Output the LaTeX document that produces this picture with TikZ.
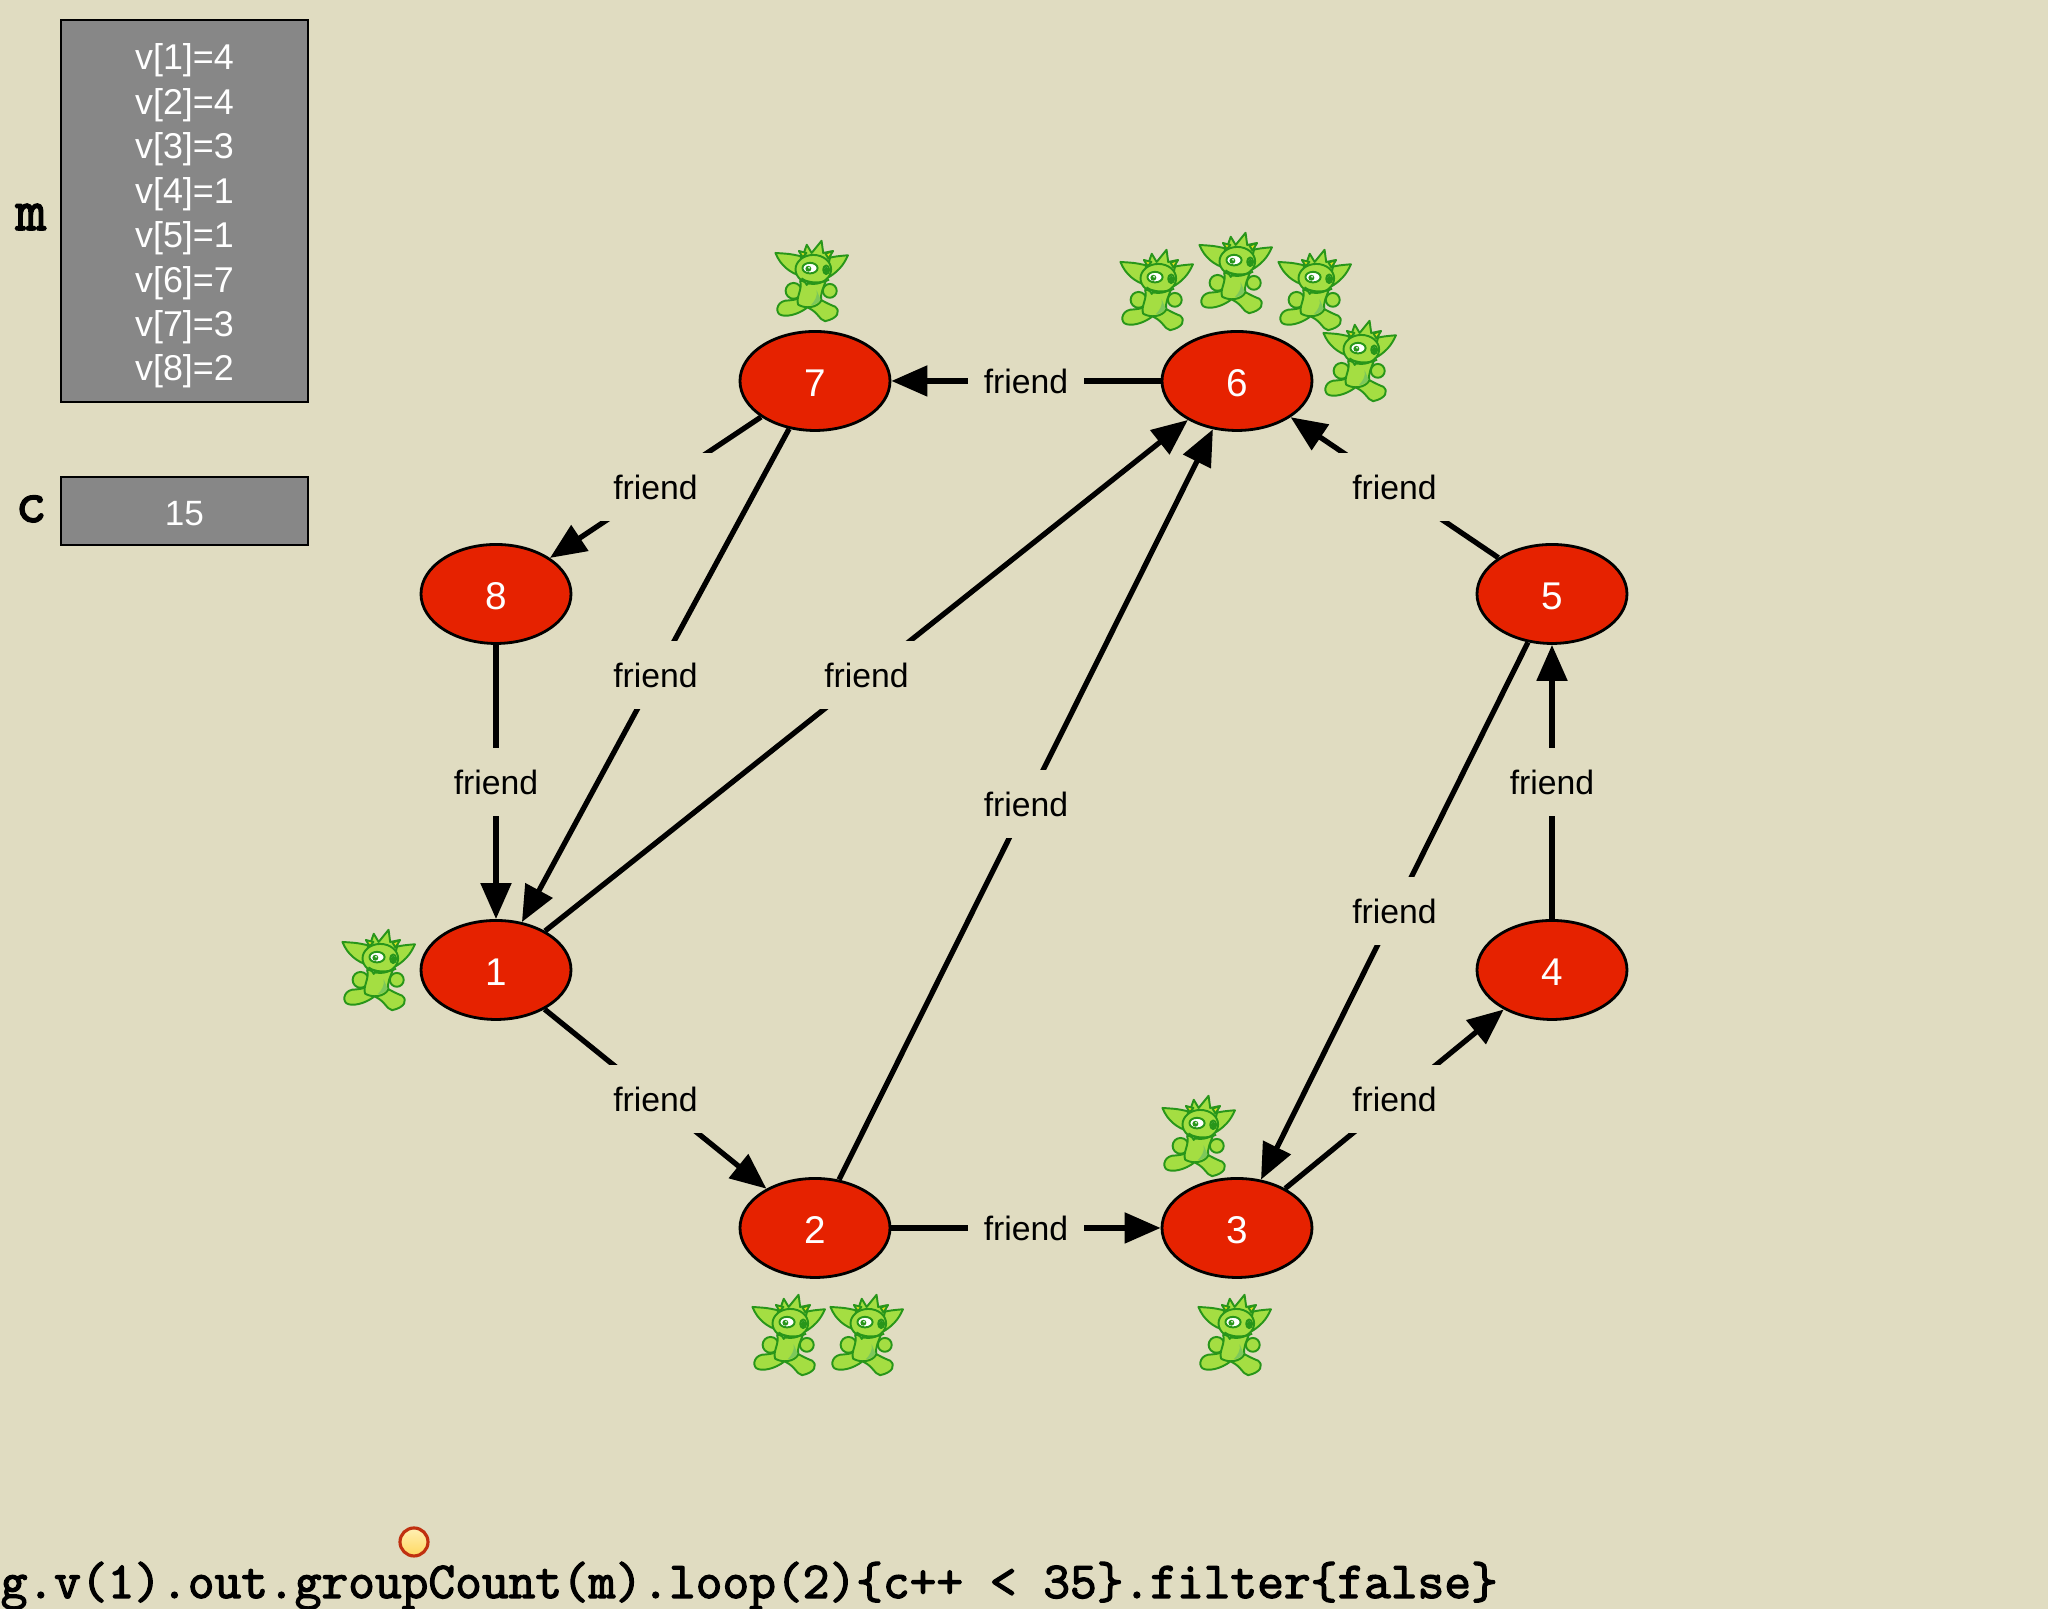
\documentclass[tikz,border=0pt]{standalone}
\usepackage{fontspec}
\setmainfont{Liberation Sans}
\newfontfamily\codefont[FakeBold=2.5]{Latin Modern Mono}
\usepackage{tikz}
\usetikzlibrary{arrows.meta, shapes.geometric}

\definecolor{paper}{RGB}{224,220,193}
\definecolor{vertexred}{RGB}{230,34,0}
\definecolor{boxgray}{RGB}{135,135,135}
\definecolor{gobline}{RGB}{40,150,26}
\definecolor{gobfill}{RGB}{164,222,66}
\definecolor{gobdark}{RGB}{125,200,90}
\definecolor{gobhair}{RGB}{232,226,30}

\tikzset{
    goblin/.pic={
        \begin{scope}[x=.0033cm, y=-.0033cm, shift={(-200,-240)}, draw=gobline, fill=gobfill, line width=.55pt, line join=round]
            % ears
            \filldraw (166,165) .. controls (135,158) .. (89,155) .. controls (105,195) and (135,215) .. (165,225) -- cycle;
            \filldraw (250,170) .. controls (275,165) .. (309,162) .. controls (295,195) and (275,215) .. (245,232) -- cycle;
            % hair
            \filldraw (158,190) -- (172,165) -- (184,130) -- (199,155) -- (229,118) -- (234,155) -- (259,150) -- (250,190) -- cycle;
            \filldraw[fill=gobhair] (160,149) -- (183,155) -- (172,168) -- cycle;
            \filldraw[fill=gobhair] (264,149) -- (241,157) -- (250,172) -- cycle;
            % arms
            \filldraw (144,270) circle [radius=24];
            \filldraw (254,270) circle [radius=21];
            % legs
            \filldraw (175,280) .. controls (160,300) and (135,298) .. (118,300) .. controls (90,306) and (88,340) .. (108,344) .. controls (130,350) and (170,338) .. (198,310) -- cycle;
            \filldraw (205,282) .. controls (225,298) and (250,310) .. (270,318) .. controls (288,332) and (278,354) .. (240,362) .. controls (220,357) and (222,338) .. (190,322) -- cycle;
            % body
            \filldraw (164,240) .. controls (172,265) and (150,290) .. (158,312) .. controls (180,325) and (215,322) .. (228,300) .. controls (225,275) and (235,260) .. (242,240) -- cycle;
            \fill[gobdark] (214,268) .. controls (218,285) and (208,302) .. (196,314) .. controls (212,312) and (222,304) .. (226,296) -- cycle;
            % head
            \filldraw (204,205) ellipse [x radius=54, y radius=44];
            % eyes
            \filldraw[fill=white] (194,201) ellipse [x radius=23, y radius=16];
            \fill[gobline] (189,203) circle [radius=9];
            \fill[white] (191,200) circle [radius=3];
            \filldraw[fill=white] (243,206) ellipse [x radius=9, y radius=13];
            \fill[gobline] (243,207) ellipse [x radius=7, y radius=10];
            % mouth
            \draw (168,232) .. controls (188,248) and (228,248) .. (252,236);
            \filldraw[fill=white] (177,240) -- (192,243) -- (184,252) -- cycle;
        \end{scope}
    }
}

\begin{document}
\begin{tikzpicture}[
        vertex/.style={ellipse, draw=black, line width=.8pt, fill=vertexred, text=white, minimum width=1.5cm, minimum height=.99cm, inner sep=0pt, text height=9.1pt, text depth=0pt, font=\fontsize{11}{13}\selectfont},
        friendedge/.style={-{Triangle[length=.36cm, width=.3cm]}, line width=1.5pt},
        friendlabel/.style={fill=paper, text=black, minimum width=1.16cm, minimum height=.68cm, inner sep=0pt, font=\fontsize{9.6}{12}\selectfont},
        countbox/.style={rectangle, draw=black, line width=.8pt, fill=boxgray, text=white, minimum width=2.47cm, inner sep=0pt, align=center},
        varlabel/.style={font=\codefont\fontsize{17}{19}\selectfont},
    ]
    \useasboundingbox (0, 0) rectangle (20.48, 16.09);
    \fill[paper] (0, 0) rectangle (20.48, 16.09);

    \node[vertex] at (4.96, 6.39)   (v1) {1};
    \node[vertex] at (8.15, 3.81)   (v2) {2};
    \node[vertex] at (12.37, 3.81)  (v3) {3};
    \node[vertex] at (15.52, 6.39)  (v4) {4};
    \node[vertex] at (15.52, 10.15) (v5) {5};
    \node[vertex] at (12.37, 12.28) (v6) {6};
    \node[vertex] at (8.15, 12.28)  (v7) {7};
    \node[vertex] at (4.96, 10.15)  (v8) {8};

    \draw [friendedge] (v1) -- node[friendlabel] (e12) {friend} (v2);
    \draw [friendedge] (v2) -- node[friendlabel] (e23) {friend} (v3);
    \draw [friendedge] (v3) -- node[friendlabel] (e34) {friend} (v4);
    \draw [friendedge] (v4) -- node[friendlabel] (e45) {friend} (v5);
    \draw [friendedge] (v5) -- node[friendlabel] (e56) {friend} (v6);
    \draw [friendedge] (v6) -- node[friendlabel] (e67) {friend} (v7);
    \draw [friendedge] (v7) -- node[friendlabel] (e78) {friend} (v8);
    \draw [friendedge] (v8) -- node[friendlabel] (e81) {friend} (v1);
    \draw [friendedge] (v7) -- node[friendlabel] (e71) {friend} (v1);
    \draw [friendedge] (v1) -- node[friendlabel] (e16) {friend} (v6);
    \draw [friendedge] (v2) -- node[friendlabel] (e26) {friend} (v6);
    \draw [friendedge] (v5) -- node[friendlabel] (e53) {friend} (v3);

    \pic at (8.12, 13.28)  {goblin};
    \pic at (11.57, 13.19) {goblin};
    \pic at (12.36, 13.36) {goblin};
    \pic at (13.15, 13.19) {goblin};
    \pic at (13.60, 12.48) {goblin};
    \pic at (3.79, 6.39)   {goblin};
    \pic at (11.99, 4.73)  {goblin};
    \pic at (7.89, 2.74)   {goblin};
    \pic at (8.67, 2.74)   {goblin};
    \pic at (12.35, 2.74)  {goblin};

    \node[countbox, minimum height=3.82cm, font=\fontsize{10.2}{12.65}\selectfont] at (1.845, 13.98) (mbox) {\rule{0pt}{10.3pt}v[1]=4\\v[2]=4\\v[3]=3\\v[4]=1\\v[5]=1\\v[6]=7\\v[7]=3\\v[8]=2};
    \node[countbox, minimum height=.68cm, text height=8pt, text depth=0pt, font=\fontsize{10}{12}\selectfont] at (1.845, 10.98) (cbox) {15};
    \node[varlabel] at (.31, 13.92) (mname) {m};
    \node[varlabel] at (.31, 11.00) (cname) {c};

    \node[circle, draw={rgb,255:red,192;green,48;blue,16}, line width=.9pt, top color={rgb,255:red,255;green,240;blue,180}, bottom color={rgb,255:red,255;green,216;blue,96}, minimum size=.28cm, inner sep=0pt] at (4.14, .67) (ball) {};
    \node[anchor=base west, inner sep=0pt, font=\codefont\fontsize{14.77}{16}\selectfont] at (0, .11) (query) {g.v(1).out.groupCount(m).loop(2)\{c++ < 35\}.filter\{false\}};
\end{tikzpicture}
\end{document}
